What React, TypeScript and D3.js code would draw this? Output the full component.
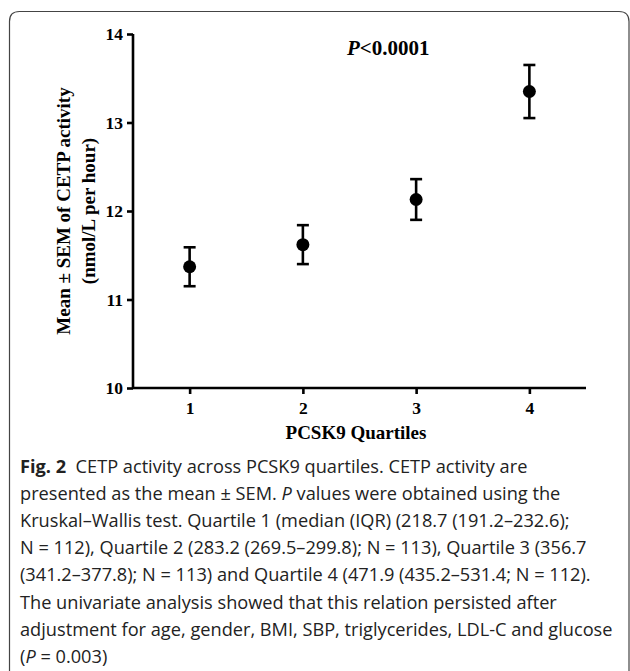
import { useEffect, useRef } from "react";
import * as d3 from "d3";

const quartiles = [1, 2, 3, 4];
const means = [11.37, 11.62, 12.13, 13.35];
const sems = [0.22, 0.22, 0.23, 0.3];
const yTicks = [10, 11, 12, 13, 14];

const captionLines = [
    [{ t: "Fig. 2", b: true }, { t: "  CETP activity across PCSK9 quartiles. CETP activity are" }],
    [{ t: "presented as the mean ± SEM. " }, { t: "P", i: true }, { t: " values were obtained using the" }],
    [{ t: "Kruskal–Wallis test. Quartile 1 (median (IQR) (218.7 (191.2–232.6);" }],
    [{ t: "N = 112), Quartile 2 (283.2 (269.5–299.8); N = 113), Quartile 3 (356.7" }],
    [{ t: "(341.2–377.8); N = 113) and Quartile 4 (471.9 (435.2–531.4; N = 112)." }],
    [{ t: "The univariate analysis showed that this relation persisted after" }],
    [{ t: "adjustment for age, gender, BMI, SBP, triglycerides, LDL-C and glucose" }],
    [{ t: "(" }, { t: "P", i: true }, { t: " = 0.003)" }],
];

const App = () => {
    const chartRef = useRef<SVGSVGElement>(null);

    useEffect(() => {
        const svg = d3.select(chartRef.current);
        svg.selectAll("*").remove();

        const width = 630;
        const height = 671;
        const serif = "'Liberation Serif', 'Times New Roman', serif";

        // frame around figure + caption
        const r = 10;
        svg.append("path")
            .attr("d", `M9.5,${height} V${11.5 + r} Q9.5,11.5 ${9.5 + r},11.5 H${629 - r} Q629,11.5 629,${11.5 + r} V${height}`)
            .attr("fill", "none")
            .attr("stroke", "#444")
            .attr("stroke-width", 1.2);

        const x = d3.scaleLinear().domain([0.5, 4.5]).range([133, 586]);
        const y = d3.scaleLinear().domain([10, 14]).range([388, 34]);

        const g = svg.append("g").attr("font-family", serif).attr("font-weight", "bold");

        // y axis
        const yAxis = g.append("g")
            .attr("transform", "translate(133,0)")
            .call(d3.axisLeft(y).tickValues(yTicks).tickSize(6).tickPadding(4).tickFormat(d3.format("d")));
        yAxis.select(".domain").attr("d", `M0,${y(14)} V${y(10)}`);

        // x axis
        const xAxis = g.append("g")
            .attr("transform", `translate(0,${y(10)})`)
            .call(d3.axisBottom(x).tickValues(quartiles).tickSize(6).tickPadding(8).tickFormat(d3.format("d")));
        xAxis.select(".domain").attr("d", `M${x(0.5)},0 H${x(4.5)}`);

        [yAxis, xAxis].forEach((a) => {
            a.attr("font-family", serif).attr("font-size", 17.5).attr("font-weight", "bold");
            a.selectAll("line, path").attr("stroke", "#000").attr("stroke-width", 2.6);
            a.selectAll("text").attr("fill", "#000");
        });

        // axis titles
        const yLabel = g.append("text")
            .attr("transform", `translate(0,${(y(10) + y(14)) / 2}) rotate(-90)`)
            .attr("text-anchor", "middle")
            .attr("font-size", 19);
        yLabel.append("tspan").attr("x", 0).attr("y", 70).text("Mean ± SEM of CETP activity");
        yLabel.append("tspan").attr("x", 0).attr("y", 95).text("(nmol/L per hour)");

        g.append("text")
            .attr("x", 356)
            .attr("y", 439)
            .attr("text-anchor", "middle")
            .attr("font-size", 19)
            .text("PCSK9 Quartiles");

        const pText = g.append("text").attr("x", 347).attr("y", 55).attr("font-size", 21);
        pText.append("tspan").attr("font-style", "italic").text("P");
        pText.append("tspan").text("<0.0001");

        // error bars
        const pts = quartiles.map((q, i) => ({ q, m: means[i], s: sems[i] }));
        const bars = g.append("g").attr("stroke", "#000").attr("stroke-width", 2.6);
        pts.forEach((d) => {
            const cx = x(d.q);
            bars.append("line").attr("x1", cx).attr("x2", cx).attr("y1", y(d.m + d.s)).attr("y2", y(d.m - d.s));
            bars.append("line").attr("x1", cx - 6).attr("x2", cx + 6).attr("y1", y(d.m + d.s)).attr("y2", y(d.m + d.s));
            bars.append("line").attr("x1", cx - 6).attr("x2", cx + 6).attr("y1", y(d.m - d.s)).attr("y2", y(d.m - d.s));
        });

        g.append("g")
            .selectAll("circle")
            .data(pts)
            .join("circle")
            .attr("cx", (d) => x(d.q))
            .attr("cy", (d) => y(d.m))
            .attr("r", 6.5)
            .attr("fill", "#000");

        // caption
        const cap = svg.append("g")
            .attr("font-family", "'Open Sans', 'Noto Sans', sans-serif")
            .attr("font-size", 18.2)
            .attr("fill", "#222");
        captionLines.forEach((line, i) => {
            const t = cap.append("text").attr("x", 20).attr("y", 473 + i * 27.1);
            line.forEach((seg: any) => {
                const s = t.append("tspan").attr("xml:space", "preserve").text(seg.t);
                if (seg.b) s.attr("font-weight", "bold");
                if (seg.i) s.attr("font-style", "italic");
            });
        });

        svg.attr("width", width).attr("height", height);
    }, []);

    return (
        <svg ref={chartRef} style={{ position: "absolute", left: 0, top: 0, whiteSpace: "pre" }}></svg>
    );
};

export default App;
